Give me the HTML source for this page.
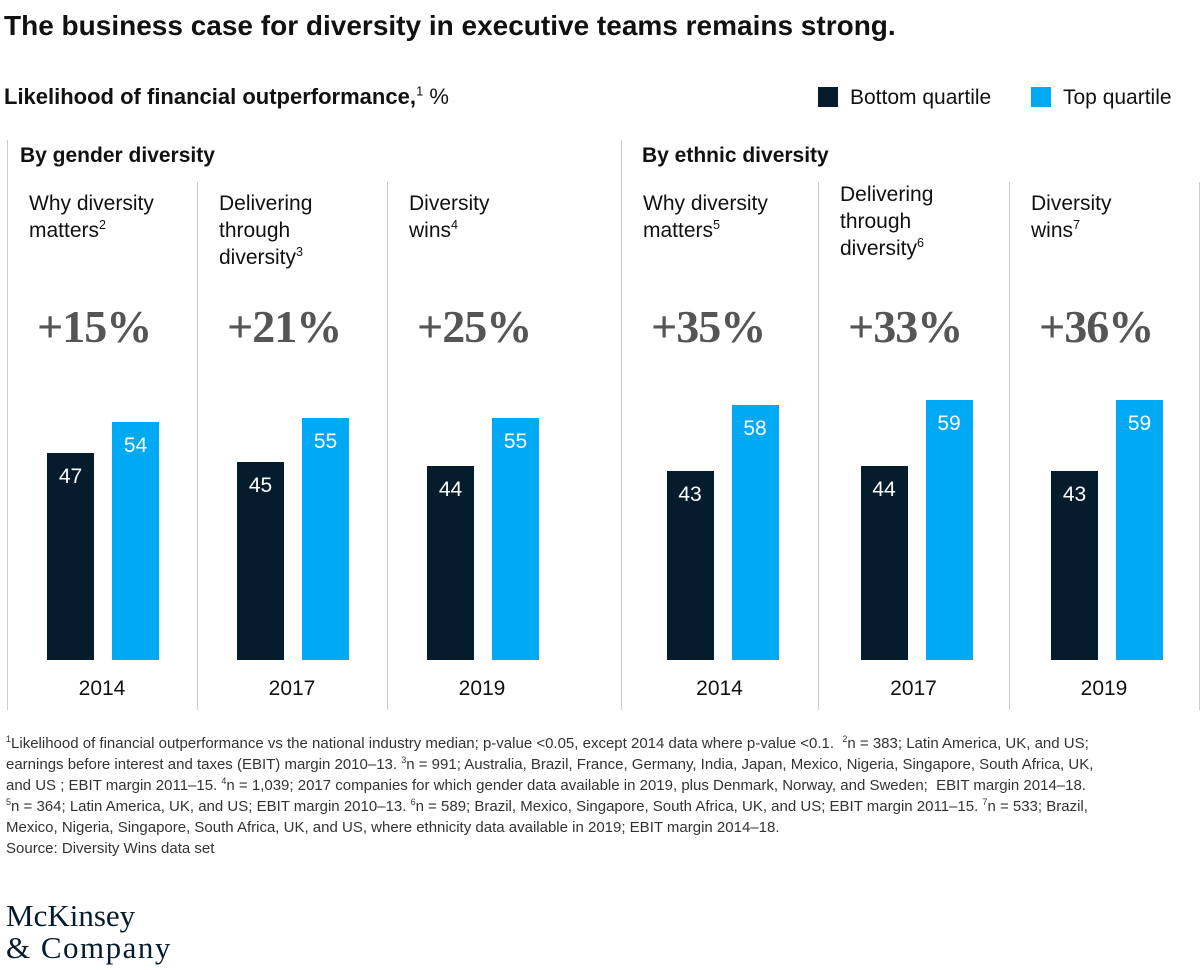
<!DOCTYPE html>
<html><head><meta charset="utf-8"><style>
body{margin:0;width:1200px;height:970px;background:#fff;font-family:"Liberation Sans",sans-serif;color:#111;position:relative;overflow:hidden}
.a{position:absolute;white-space:nowrap}
.vl{position:absolute;width:1px;background:#ccc}
.pl{position:absolute;font-size:21px;line-height:27px;color:#111}
.big{position:absolute;font-family:"Liberation Serif",serif;font-size:46px;color:#555;font-weight:bold;letter-spacing:-1px}
.fn{position:absolute;left:6px;top:733px;font-size:15px;line-height:21px;color:#333;width:1190px}
sup{font-size:60%;line-height:0}
</style></head><body>
<div class="a" style="left:4px;top:10px;font-size:28px;font-weight:bold">The business case for diversity in executive teams remains strong.</div>
<div class="a" style="left:4px;top:84px;font-size:22px"><b>Likelihood of financial outperformance,</b><sup>1</sup> %</div>
<div class="a" style="left:818px;top:86px;font-size:21px"><span style="display:inline-block;width:20px;height:20px;background:#051c2c;vertical-align:-3px;margin-right:12px"></span>Bottom quartile</div>
<div class="a" style="left:1031px;top:86px;font-size:21px"><span style="display:inline-block;width:20px;height:20px;background:#00a9f4;vertical-align:-3px;margin-right:12px"></span>Top quartile</div>
<div class="a" style="left:20px;top:144px;font-size:21px;font-weight:bold">By gender diversity</div>
<div class="a" style="left:642px;top:144px;font-size:21px;font-weight:bold">By ethnic diversity</div>
<div id="chart"></div>
<div class="fn"><sup>1</sup>Likelihood of financial outperformance vs the national industry median; p-value &lt;0.05, except 2014 data where p-value &lt;0.1. &nbsp;<sup>2</sup>n = 383; Latin America, UK, and US;<br>earnings before interest and taxes (EBIT) margin 2010–13. <sup>3</sup>n = 991; Australia, Brazil, France, Germany, India, Japan, Mexico, Nigeria, Singapore, South Africa, UK,<br>and US ; EBIT margin 2011–15. <sup>4</sup>n = 1,039; 2017 companies for which gender data available in 2019, plus Denmark, Norway, and Sweden; &nbsp;EBIT margin 2014–18.<br><sup>5</sup>n = 364; Latin America, UK, and US; EBIT margin 2010–13. <sup>6</sup>n = 589; Brazil, Mexico, Singapore, South Africa, UK, and US; EBIT margin 2011–15. <sup>7</sup>n = 533; Brazil,<br>Mexico, Nigeria, Singapore, South Africa, UK, and US, where ethnicity data available in 2019; EBIT margin 2014–18.<br>Source: Diversity Wins data set</div>
<div class="a" style="left:6px;top:900px;font-family:'Liberation Serif',serif;font-size:31px;line-height:32px;color:#051c2c">McKinsey<br><span style="letter-spacing:1.5px">&amp; Company</span></div>
<script>
const years=["2014","2017","2019","2014","2017","2019"];
const titles=["Why diversity<br>matters<sup>2</sup>","Delivering<br>through<br>diversity<sup>3</sup>","Diversity<br>wins<sup>4</sup>","Why diversity<br>matters<sup>5</sup>","Delivering<br>through<br>diversity<sup>6</sup>","Diversity<br>wins<sup>7</sup>"];
const bottomQ=[47,45,44,43,44,43];
const topQ=[54,55,55,58,59,59];
const uplift=["+15%","+21%","+25%","+35%","+33%","+36%"];
const c=document.getElementById('chart');
const panelX=[7,197,387,621,818,1009];
const panelW=[190,190,190,197,191,190];
const base=660,scale=4.4;
function y(v){return base-v*scale;}
function add(html){const d=document.createElement('div');d.innerHTML=html;return d.firstChild;}
[7,621].forEach((x,i)=>{const l=add('<div class="vl"></div>');l.style.cssText=`left:${x}px;top:140px;height:570px`;

c.appendChild(l);});
[197,387,818,1009,1199].forEach(x=>{const l=add('<div class="vl"></div>');l.style.cssText=`left:${x}px;top:182px;height:528px`;

c.appendChild(l);});
for(let i=0;i<6;i++){
 const px=panelX[i],cx=px+panelW[i]/2;
 const t=add('<div class="pl">'+titles[i]+'</div>');t.style.left=(px+22)+'px';t.style.top=(i==4?181:190)+'px';
 
 c.appendChild(t);
 const b=add('<div class="big">'+uplift[i]+'</div>');b.style.left=(px+30)+'px';b.style.top='300px';
 
 c.appendChild(b);
 const off=i>=3?3:1;
 [[bottomQ[i],'#051c2c',cx-56+off,'bar-bottom-quartile'],[topQ[i],'#00a9f4',cx+9+off,'bar-top-quartile']].forEach(([v,col,x,n])=>{
  const r=add('<div></div>');r.style.cssText=`position:absolute;left:${x}px;top:${y(v)}px;width:47px;height:${base-y(v)}px;background:${col};color:#fff;font-size:21px;text-align:center;padding-top:12px;box-sizing:border-box`;
  r.textContent=v;
  
  c.appendChild(r);});
 const yl=add('<div class="a"></div>');yl.textContent=years[i];yl.style.cssText=`left:${cx-40}px;width:80px;text-align:center;top:677px;font-size:21px`;
 
 c.appendChild(yl);
}
</script>
</body></html>
